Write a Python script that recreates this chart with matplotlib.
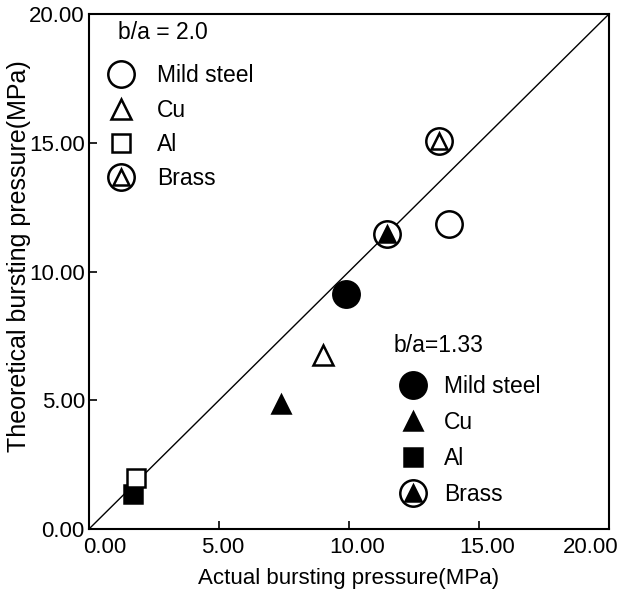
import numpy as np
import matplotlib
matplotlib.use("Agg")
import matplotlib.pyplot as plt
import matplotlib.transforms as mtrans
from matplotlib.legend_handler import HandlerTuple

plt.rcParams['font.family'] = ['Liberation Sans', 'DejaVu Sans']

# actual (x) vs theoretical (y) bursting pressure, MPa
# b/a = 2.0 (open markers)
steel_20 = (13.85, 11.84)
cu_20 = (9.0, 6.76)
al_20 = (1.81, 1.98)
brass_20 = (13.46, 15.07)
# b/a = 1.33 (filled markers)
steel_133 = (9.88, 9.13)
cu_133 = (7.38, 4.85)
al_133 = (1.69, 1.36)
brass_133 = (11.46, 11.46)

ticks = [0, 5, 10, 15, 20]
names = ['Mild steel', 'Cu', 'Al', 'Brass']

fig = plt.figure(figsize=(6.29, 5.92), dpi=100)
ax = fig.add_axes([89/629, (592-529)/592, 520/629, 515/592])

ax.plot([0, 20], [0, 20], color='black', lw=1.0, zorder=1)

ms_c = 19
mew = 1.8

def brass(pt, filled):
    c, = ax.plot(*pt, 'o', ms=ms_c, mfc='white', mec='black', mew=mew, ls='none', zorder=3)
    t, = ax.plot(*pt, '^', ms=12, mfc='black' if filled else 'white', mec='black', mew=mew,
                 ls='none', zorder=4)
    return (c, t)

h_s20, = ax.plot(*steel_20, 'o', ms=ms_c, mfc='white', mec='black', mew=mew, ls='none')
h_c20, = ax.plot(*cu_20, '^', ms=14, mfc='white', mec='black', mew=mew, ls='none')
h_a20, = ax.plot(*al_20, 's', ms=13, mfc='white', mec='black', mew=mew, ls='none', zorder=3)
h_b20 = brass(brass_20, False)

h_s133, = ax.plot(*steel_133, 'o', ms=ms_c, mfc='black', mec='black', mew=mew, ls='none')
h_c133, = ax.plot(*cu_133, '^', ms=13, mfc='black', mec='black', mew=mew, ls='none')
h_a133, = ax.plot(*al_133, 's', ms=13, mfc='black', mec='black', mew=mew, ls='none', zorder=2)
h_b133 = brass(brass_133, True)

ax.set_xlim(0, 20)
ax.set_ylim(0, 20)
ax.set_xticks(ticks)
ax.set_yticks(ticks)
ax.set_xticklabels(['%.2f' % t for t in ticks])
ax.set_yticklabels(['%.2f' % t for t in ticks])
ax.tick_params(direction='in', length=6, width=1.2, labelsize=16)
ax.tick_params(axis='x', pad=6)
ax.tick_params(axis='y', pad=3)
for s in ax.spines.values():
    s.set_linewidth(1.5)

# nudge x tick labels like the original (first/last pulled inside)
x_shift = [16, 4, 8, 8, -18]
for lab, dx in zip(ax.get_xticklabels(), x_shift):
    lab.set_transform(lab.get_transform() + mtrans.ScaledTranslation(dx/100, 0, fig.dpi_scale_trans))

ax.set_xlabel('Actual bursting pressure(MPa)', fontsize=16, labelpad=7)
ax.set_ylabel('Theoretical bursting pressure(MPa)', fontsize=18)
ax.yaxis.set_label_coords(-0.112, 0.53)

common = dict(frameon=False, fontsize=16.5, labelspacing=0.5, handlelength=1.2,
              handletextpad=0.95, borderpad=0.0,
              handler_map={tuple: HandlerTuple(ndivide=1)})
leg1 = ax.legend([h_s20, h_c20, h_a20, h_b20], names,
                 loc='upper left', bbox_to_anchor=(0.014, 0.925), **common)
ax.add_artist(leg1)
ax.legend([h_s133, h_c133, h_a133, h_b133], names,
          loc='upper left', bbox_to_anchor=(0.575, 0.321),
          **dict(common, handletextpad=0.75, labelspacing=0.57))
ax.text(0.056, 0.965, 'b/a = 2.0', transform=ax.transAxes, fontsize=16.5, va='center', ha='left')
ax.text(0.585, 0.356, 'b/a=1.33', transform=ax.transAxes, fontsize=16.5, va='center', ha='left')

fig.savefig('out.png', dpi=100)
